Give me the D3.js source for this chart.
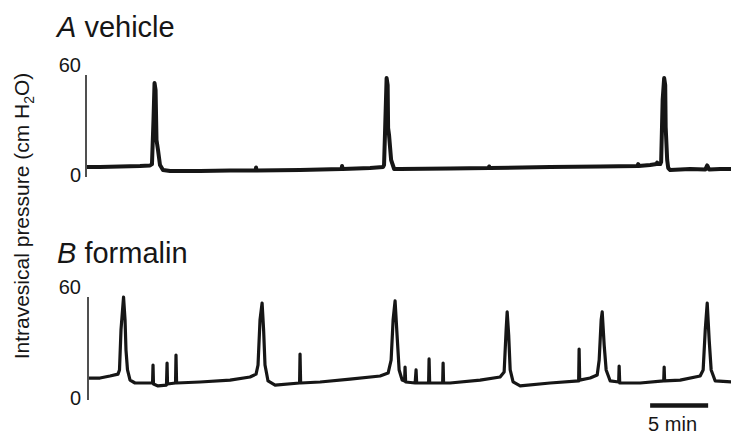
<!DOCTYPE html>
<html>
<head>
<meta charset="utf-8">
<script src="https://cdnjs.cloudflare.com/ajax/libs/d3/7.8.5/d3.min.js"></script>
<style>
  body { margin: 0; background: #fff; }
  text { font-family: "Liberation Sans", Arial, Helvetica, sans-serif; fill: #161616; }
</style>
</head>
<body>
<div id="chart"></div>
<script>
// cystometry traces (time in min, pressure in cm H2O)
var vehicleTime = [0, 1.12, 2.84, 4.57, 5.43, 5.60, 5.73, 5.82, 5.91, 5.99, 6.12, 6.29, 6.55, 7.16, 9.74, 12.33,
  14.53, 14.57, 14.61, 18.36, 21.94, 21.98, 22.03, 24.40, 25.52, 25.60, 25.69, 25.82, 25.91, 25.95, 26.03, 26.21,
  26.47, 26.98, 31.29, 34.61, 34.66, 34.70, 39.91, 44.22, 47.46, 47.50, 47.54, 48.53, 49.09, 49.14, 49.18, 49.40,
  49.48, 49.61, 49.74, 49.83, 49.87, 50.00, 50.09, 50.26, 51.98, 53.28, 53.45, 53.62, 54.57, 55.52];
var vehiclePressure = [5.9, 5.9, 6.2, 6.5, 6.8, 7.6, 33.5, 55.3, 51.2, 21.8, 15.9, 7.1, 4.1, 3.5, 3.5, 3.8,
  3.8, 5.6, 3.8, 4.1, 4.7, 6.5, 4.7, 5.3, 5.9, 7.1, 27.6, 58.2, 54.1, 28.8, 24.7, 10.0,
  4.7, 4.7, 5.0, 5.3, 6.2, 5.3, 5.9, 6.2, 6.5, 7.6, 6.5, 7.1, 7.6, 8.5, 7.6, 7.6,
  8.8, 45.3, 58.2, 54.1, 29.4, 10.0, 5.3, 4.1, 4.7, 4.4, 6.8, 4.4, 4.7, 4.7];

var formalinTime = [0.17, 1.12, 1.98, 2.67, 2.80, 2.93, 3.15, 3.28, 3.36, 3.49, 3.71, 4.14, 5.65, 5.69, 5.73, 6.12,
  6.85, 6.90, 6.94, 7.63, 7.67, 7.72, 9.74, 12.33, 14.05, 14.57, 14.74, 14.91, 15.09, 15.22, 15.34, 15.60,
  16.21, 18.32, 18.36, 18.41, 20.09, 22.67, 25.26, 25.95, 26.21, 26.38, 26.55, 26.72, 26.90, 27.16, 27.37, 27.41,
  27.46, 28.28, 28.36, 28.41, 29.44, 29.48, 29.53, 30.65, 30.69, 30.73, 31.29, 33.88, 35.60, 35.95, 36.12, 36.21,
  36.34, 36.47, 36.72, 37.33, 39.91, 42.37, 42.41, 42.46, 43.36, 43.97, 44.14, 44.31, 44.40, 44.57, 44.74, 45.09,
  45.82, 45.86, 45.91, 47.67, 49.70, 49.74, 49.78, 51.12, 52.84, 53.10, 53.28, 53.45, 53.62, 53.79, 54.14, 55.52];
var formalinPressure = [12.8, 12.8, 14.0, 15.1, 17.5, 40.8, 60.0, 46.6, 29.1, 17.5, 11.6, 9.9, 9.9, 20.4, 9.3, 8.2,
  8.7, 21.5, 9.3, 9.9, 26.2, 9.9, 10.5, 11.6, 13.4, 15.1, 20.4, 46.6, 56.5, 40.8, 20.4, 11.1,
  8.7, 9.9, 26.8, 9.9, 10.5, 12.2, 14.0, 15.7, 23.3, 46.6, 57.7, 37.9, 17.5, 11.6, 11.1, 19.2,
  10.5, 9.9, 17.5, 9.9, 9.9, 23.9, 9.9, 9.9, 21.5, 9.9, 9.9, 11.6, 13.4, 16.3, 40.8, 51.3,
  37.9, 17.5, 10.5, 8.2, 9.9, 11.1, 29.7, 11.6, 12.8, 14.6, 23.3, 46.6, 51.3, 32.0, 17.5, 11.1,
  10.5, 19.8, 9.9, 9.9, 11.1, 19.2, 11.1, 11.6, 14.0, 17.5, 40.8, 56.5, 34.9, 17.5, 11.1, 10.5];

var tickLabels = ["0", "60"];
var panelTitles = [["A", " vehicle"], ["B", " formalin"]];
var scaleBarMinutes = 5;
var scaleBarStart = 48.53;

var width = 731, height = 434;

var svg = d3.select("#chart").append("svg")
  .attr("width", width)
  .attr("height", height);

var x = d3.scaleLinear().domain([0, 55.5]).range([87, 731]);

// one y scale per panel
var yTop = d3.scaleLinear().domain([0, 60]).range([177, 75]);
var yBot = d3.scaleLinear().domain([0, 60]).range([400, 297]);

var panels = [
  { t: vehicleTime, p: vehiclePressure, y: yTop, axisX: 86, titleY: 37, sw: 4 },
  { t: formalinTime, p: formalinPressure, y: yBot, axisX: 88, titleY: 263, sw: 3.2 }
];

panels.forEach(function(pan, i) {
  var pts = pan.t.map(function(d, j) { return [d, pan.p[j]]; });

  var line = d3.line()
    .x(d => x(d[0]))
    .y(d => pan.y(d[1]));

  // y axis is just a plain bar with the two end labels
  svg.append("line")
    .attr("x1", pan.axisX).attr("x2", pan.axisX)
    .attr("y1", pan.y(60)).attr("y2", pan.y(0))
    .attr("stroke", "#161616")
    .attr("stroke-width", 1.5);

  svg.append("text")
    .attr("x", 81).attr("y", pan.y(60) - 3)
    .attr("text-anchor", "end")
    .style("font-size", "20px")
    .text(tickLabels[1]);

  svg.append("text")
    .attr("x", 81).attr("y", pan.y(0) + 5)
    .attr("text-anchor", "end")
    .style("font-size", "20px")
    .text(tickLabels[0]);

  svg.append("path")
    .datum(pts)
    .attr("d", line)
    .attr("fill", "none")
    .attr("stroke", "#161616")
    .attr("stroke-width", pan.sw)
    .attr("stroke-linejoin", "round");

  var title = svg.append("text")
    .attr("x", 57).attr("y", pan.titleY)
    .style("font-size", "29px");
  title.append("tspan").style("font-style", "italic").text(panelTitles[i][0]);
  title.append("tspan").text(panelTitles[i][1]);
});

// y label
var ylab = svg.append("text")
  .attr("transform", "translate(29,216) rotate(-90)")
  .attr("text-anchor", "middle")
  .style("font-size", "21px");
ylab.append("tspan").text("Intravesical pressure (cm H");
ylab.append("tspan").attr("dy", 5).style("font-size", "14px").text("2");
ylab.append("tspan").attr("dy", -5).text("O)");

// scale bar
svg.append("line")
  .attr("x1", x(scaleBarStart)).attr("x2", x(scaleBarStart + scaleBarMinutes))
  .attr("y1", 405.5).attr("y2", 405.5)
  .attr("stroke", "#161616")
  .attr("stroke-width", 4.5);

svg.append("text")
  .attr("x", x(scaleBarStart) - 2).attr("y", 431)
  .style("font-size", "20px")
  .text(scaleBarMinutes + " min");
</script>
</body>
</html>
